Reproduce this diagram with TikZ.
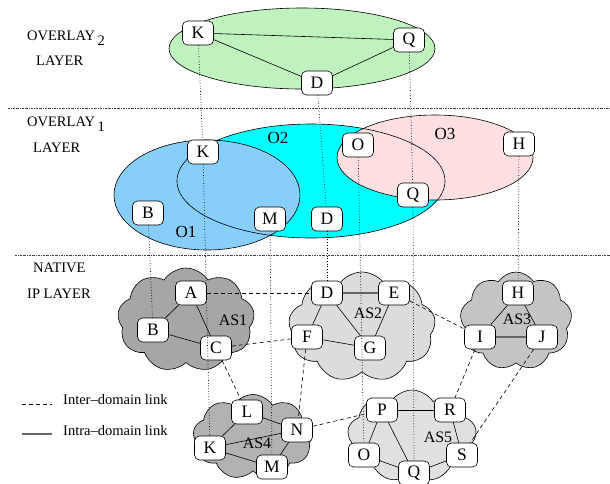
\documentclass[tikz,border=0pt]{standalone}
\usepackage{fontspec}
\setmainfont{Liberation Serif}
\usetikzlibrary{shapes.symbols}
\definecolor{ovgreen}{HTML}{C0F2C0}
\definecolor{ovcyan}{HTML}{00FFFF}
\definecolor{ovblue}{HTML}{87CEFA}
\definecolor{ovpink}{HTML}{FFDFDF}
\definecolor{asone}{HTML}{A6A6A6}
\definecolor{astwo}{HTML}{DCDCDC}
\definecolor{asthree}{HTML}{C4C4C4}
\definecolor{asfour}{HTML}{B2B2B2}
\definecolor{asfive}{HTML}{E0E0E0}
\begin{document}
\begin{tikzpicture}[x=1pt,y=-1pt,
  nd/.style={draw, fill=white, rounded corners=5pt, minimum width=31pt, minimum height=24pt, inner sep=0pt, line width=0.6pt, font=\fontsize{17.5}{17.5}\selectfont},
  lbl/.style={font=\fontsize{17}{17}\selectfont},
  aslbl/.style={font=\fontsize{16}{16}\selectfont},
  side/.style={font=\fontsize{14.5}{15}\selectfont, anchor=west, inner sep=0pt},
  ascloud/.style={cloud, cloud puffs=9, cloud puff arc=115, draw, line width=0.6pt, cloud ignores aspect, inner sep=0pt},
  intra/.style={line width=0.6pt},
  inter/.style={dash pattern=on 4pt off 3pt, line width=0.6pt},
  vdot/.style={dotted, line width=0.7pt},
  sep/.style={dash pattern=on 2pt off 1pt on 0.6pt off 1pt, black!75, line width=0.6pt}]
\useasboundingbox (0,0) rectangle (610,483);

% separators
\coordinate (s1a) at (8,108); \coordinate (s1b) at (610,108);
\coordinate (s2a) at (15,255); \coordinate (s2b) at (610,255);
\draw[sep] (s1a) -- (s1b);
\draw[sep] (s2a) -- (s2b);

% left labels
\node[side] (l2a) at (27,38) {OVERLAY\,\raisebox{-0.7ex}{2}};
\node[side] (l2b) at (36,61) {LAYER};
\node[side] (l1a) at (27,124) {OVERLAY\,\raisebox{-0.7ex}{1}};
\node[side] (l1b) at (33,148) {LAYER};
\node[side] (l0a) at (33,268) {NATIVE};
\node[side] (l0b) at (27,294) {IP LAYER};

% overlay 2
\path[draw, fill=ovgreen, line width=0.6pt] (302,48.5) ellipse [x radius=133, y radius=40.5];
\node[nd] (K2) at (198,33) {K};
\node[nd] (Q2) at (409,40) {Q};
\node[nd] (D2) at (317,83) {D};
\draw[intra] (K2) -- (Q2);
\draw[intra] (K2) -- (D2);
\draw[intra] (D2) -- (Q2);

% overlay 1
\path[fill=ovcyan] (311,181) ellipse [x radius=134, y radius=57];
\path[fill=ovblue] (207,195) ellipse [x radius=93, y radius=55];
\path[fill=ovpink] (435,157.5) ellipse [x radius=98, y radius=42.5];
\draw[line width=0.6pt] (311,181) ellipse [x radius=134, y radius=57];
\draw[line width=0.6pt] (207,195) ellipse [x radius=93, y radius=55];
\draw[line width=0.6pt] (435,157.5) ellipse [x radius=98, y radius=42.5];
\node[lbl] (o2l) at (278,138) {O2};
\node[lbl] (o3l) at (445,134) {O3};
\node[lbl] (o1l) at (186,232) {O1};
\node[nd] (K1) at (203,152) {K};
\node[nd] (O1) at (358,145) {O};
\node[nd] (Q1) at (413,195) {Q};
\node[nd] (B1) at (148,213) {B};
\node[nd] (M1) at (270,219) {M};
\node[nd] (D1) at (327,219) {D};
\node[nd] (H1) at (519,144) {H};

% native layer clouds
\node[ascloud, fill=asone, minimum width=137pt, minimum height=104pt] (as1) at (186,320) {};
\node[ascloud, fill=astwo, minimum width=147pt, minimum height=110pt] (as2) at (362,327) {};
\node[ascloud, fill=asthree, minimum width=112pt, minimum height=98pt] (as3) at (516,321) {};
\node[ascloud, fill=asfour, minimum width=120pt, minimum height=85pt] (as4) at (253,437) {};
\node[ascloud, fill=asfive, minimum width=129pt, minimum height=92pt] (as5) at (412,436) {};
\node[aslbl] (as1l) at (233,320) {AS1};
\node[aslbl] (as2l) at (368,313) {AS2};
\node[aslbl] (as3l) at (517,319) {AS3};
\node[aslbl] (as4l) at (257,443) {AS4};
\node[aslbl] (as5l) at (438,437) {AS5};

% native nodes
\node[nd] (A) at (191,293) {A};
\node[nd] (B) at (153,330) {B};
\node[nd] (C) at (216,348) {C};
\node[nd] (D) at (327,293) {D};
\node[nd] (E) at (394,293) {E};
\node[nd] (F) at (307,337) {F};
\node[nd] (G) at (370,348) {G};
\node[nd] (H) at (518,293) {H};
\node[nd] (I) at (480,337) {I};
\node[nd] (J) at (542,337) {J};
\node[nd] (L) at (247,412) {L};
\node[nd] (N) at (297,430) {N};
\node[nd] (K) at (210,448) {K};
\node[nd] (M) at (272,467) {M};
\node[nd] (P) at (382,410) {P};
\node[nd] (R) at (450,410) {R};
\node[nd] (O) at (364,455) {O};
\node[nd] (S) at (462,455) {S};
\node[nd] (Q) at (414,473) {Q};

% intra-domain links
\draw[intra] (A) -- (B); \draw[intra] (A) -- (C); \draw[intra] (B) -- (C);
\draw[intra, black!60, line width=1.2pt] (D) -- (E);
\draw[intra] (D) -- (F); \draw[intra] (D) -- (G); \draw[intra] (E) -- (G); \draw[intra] (F) -- (G);
\draw[intra] (H) -- (I); \draw[intra] (H) -- (J);
\draw[intra, black!60, line width=1.2pt] (I) -- (J);
\draw[intra] (L) -- (K); \draw[intra] (L) -- (N); \draw[intra] (K) -- (N); \draw[intra] (K) -- (M); \draw[intra] (N) -- (M);
\draw[intra] (P) -- (R); \draw[intra] (P) -- (O); \draw[intra] (P) -- (Q); \draw[intra] (R) -- (S); \draw[intra] (O) -- (Q); \draw[intra] (Q) -- (S);

% inter-domain links
\draw[inter] (A) -- (D);
\draw[inter] (C) -- (F);
\draw[inter] (E) -- (I);
\draw[inter] (C) -- (L);
\draw[inter] (F) -- (N);
\draw[inter] (N) -- (P);
\draw[inter] (I) -- (R);
\draw[inter] (J) -- (S);

% vertical mapping lines
\draw[vdot] (K2) -- (K1);
\draw[vdot] (D2) -- (D1);
\draw[vdot] (Q2) -- (Q1);
\draw[vdot] (B1) -- (B);
\draw[vdot] (K1) -- (K);
\draw[vdot] (M1) -- (M);
\draw[vdot] (D1) -- (D);
\draw[vdot] (O1) -- (O);
\draw[vdot] (Q1) -- (Q);
\draw[vdot] (H1) -- (H);

% legend
\coordinate (ia) at (22,404); \coordinate (ib) at (52,404);
\coordinate (ja) at (22,434); \coordinate (jb) at (52,434);
\draw[inter] (ia) -- (ib);
\draw[black!60, line width=1.2pt] (ja) -- (jb);
\node[side] (leg1) at (63,400) {Inter\textendash domain link};
\node[side] (leg2) at (63,431) {Intra\textendash domain link};
\end{tikzpicture}
\end{document}
